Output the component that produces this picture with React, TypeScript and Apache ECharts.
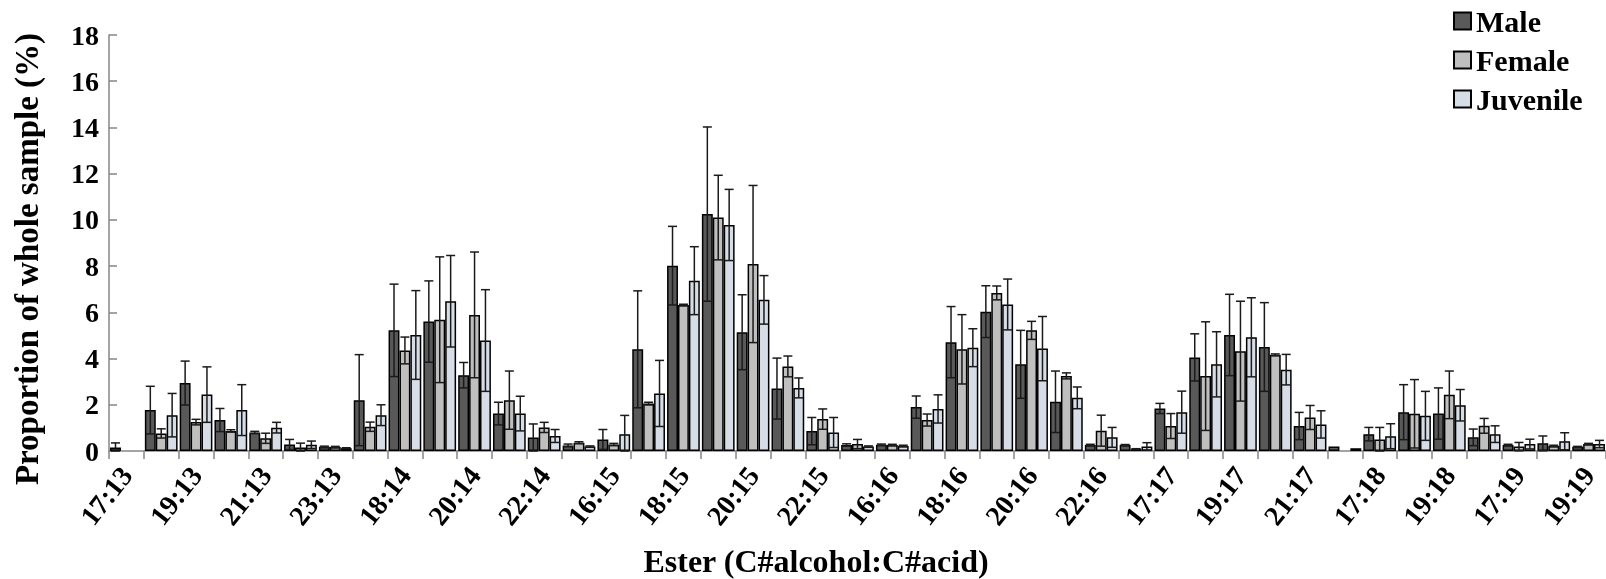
import React, { useEffect, useRef } from "react";
import * as echarts from "echarts";

// Ester names (C#alcohol:C#acid), in plotting order
const esters = [
  "17:13", "18:13", "19:13", "20:13", "21:13", "22:13", "23:13",
  "17:14", "18:14", "19:14", "20:14", "21:14", "22:14", "23:14",
  "16:15", "17:15", "18:15", "19:15", "20:15", "21:15", "22:15", "23:15",
  "16:16", "17:16", "18:16", "19:16", "20:16", "21:16", "22:16", "23:16",
  "17:17", "18:17", "19:17", "20:17", "21:17", "22:17",
  "17:18", "18:18", "19:18", "20:18",
  "17:19", "18:19", "19:19",
];

// Mean proportion of whole sample (%)
const maleMean = [
  0.15, 1.77, 2.94, 1.34, 0.8, 0.28, 0.18,
  2.2, 5.22, 5.6, 3.28, 1.62, 0.58, 0.24,
  0.5, 4.4, 8.02, 10.25, 5.14, 2.7, 0.86, 0.26,
  0.27, 1.9, 4.71, 6.03, 3.75, 2.13, 0.26, 0.26,
  1.84, 4.05, 5.02, 4.5, 1.08, 0.19,
  0.73, 1.68, 1.62, 0.59,
  0.26, 0.33, 0.18,
];
const femaleMean = [
  0, 0.76, 1.25, 0.87, 0.55, 0.15, 0.17,
  1.05, 4.35, 5.68, 5.89, 2.2, 1.02, 0.36,
  0.28, 2.05, 6.32, 10.1, 8.09, 3.66, 1.38, 0.3,
  0.26, 1.34, 4.4, 6.84, 5.22, 3.25, 0.88, 0.09,
  1.08, 3.24, 4.32, 4.16, 1.45, 0,
  0.5, 1.61, 2.43, 1.09,
  0.19, 0.22, 0.3,
];
const juvenileMean = [
  0, 1.55, 2.44, 1.77, 1.01, 0.27, 0.12,
  1.55, 5.02, 6.48, 4.78, 1.62, 0.65, 0.19,
  0.73, 2.49, 7.37, 9.78, 6.54, 2.73, 0.8, 0.19,
  0.22, 1.82, 4.47, 6.34, 4.43, 2.3, 0.59, 0.2,
  1.68, 3.75, 4.92, 3.52, 1.15, 0.12,
  0.64, 1.52, 1.98, 0.73,
  0.3, 0.42, 0.3,
];

// Standard error of each mean
const maleErr = [
  0.2, 1.03, 0.95, 0.5, 0.05, 0.22, 0.03,
  1.97, 2.0, 1.76, 0.55, 0.49, 0.59, 0.06,
  0.43, 2.53, 1.7, 3.77, 1.62, 1.32, 0.59, 0.05,
  0.03, 0.48, 1.54, 1.12, 1.47, 1.33, 0.03, 0.02,
  0.22, 1.02, 1.76, 1.92, 0.59, 0,
  0.29, 1.19, 1.11, 0.36,
  0.03, 0.32, 0.02,
];
const femaleErr = [
  0, 0.2, 0.12, 0.05, 0.22, 0.19, 0.03,
  0.2, 0.58, 2.72, 2.72, 1.26, 0.22, 0.04,
  0.05, 0.06, 0.03, 1.83, 3.4, 0.45, 0.44, 0.2,
  0.03, 0.26, 1.5, 0.3, 0.39, 0.13, 0.67, 0.01,
  0.54, 2.35, 2.16, 0.04, 0.52, 0,
  0.52, 1.48, 1.03, 0.32,
  0.18, 0.03, 0.03,
];
const juvenileErr = [
  0, 0.94, 1.2, 1.1, 0.23, 0.16, 0.02,
  0.45, 1.92, 1.98, 2.2, 0.75, 0.28, 0.03,
  0.81, 1.43, 1.47, 1.54, 1.05, 0.43, 0.65, 0.03,
  0.03, 0.61, 0.82, 1.1, 1.39, 0.47, 0.43, 0.16,
  0.91, 1.41, 1.71, 0.66, 0.59, 0,
  0.54, 1.06, 0.68, 0.36,
  0.21, 0.37, 0.16,
];

const groups = ["Male", "Female", "Juvenile"];
const colors = ["#595959", "#BFBFBF", "#D7DDE7"];

const FONT = '"Liberation Serif", "Times New Roman", serif';
const AXIS_GRAY = "#868686";
const CATEGORY_GAP = 0.06;

export default function App() {
  const ref = useRef<HTMLDivElement>(null);

  useEffect(() => {
    if (!ref.current) return;
    const chart = echarts.init(ref.current, null, { renderer: "svg" });

    const means = [maleMean, femaleMean, juvenileMean];
    const errs = [maleErr, femaleErr, juvenileErr];

    const barSeries = groups.map((name, g) => ({
      name,
      type: "bar",
      barGap: "0%",
      barCategoryGap: `${CATEGORY_GAP * 100}%`,
      itemStyle: { color: colors[g], borderColor: "#000", borderWidth: 1.5 },
      emphasis: { disabled: true },
      data: means[g].map((v) => (v > 0 ? v : "-")),
      z: 2,
    }));

    const errorSeries = groups.map((name, g) => ({
      name: `${name} SE`,
      type: "custom",
      z: 3,
      silent: true,
      data: means[g].map((v, i) => [i, v, errs[g][i]]),
      renderItem: (params: any, api: any) => {
        const idx = api.value(0);
        const v = api.value(1);
        const e = api.value(2);
        if (!(v > 0) || !(e > 0)) return null;
        const band = api.size([1, 0])[0];
        const bw = (band * (1 - CATEGORY_GAP)) / 3;
        const cx = api.coord([idx, v])[0] + (g - 1) * bw;
        const yTop = api.coord([idx, v + e])[1];
        const yBot = api.coord([idx, Math.max(v - e, 0)])[1];
        const cap = 4.5;
        const style = { stroke: "#1a1a1a", lineWidth: 1.5 };
        return {
          type: "group",
          children: [
            { type: "line", shape: { x1: cx, y1: yTop, x2: cx, y2: yBot }, style },
            { type: "line", shape: { x1: cx - cap, y1: yTop, x2: cx + cap, y2: yTop }, style },
            { type: "line", shape: { x1: cx - cap, y1: yBot, x2: cx + cap, y2: yBot }, style },
          ],
        };
      },
    }));

    const option = {
      animation: false,
      grid: { left: 109, right: 0, top: 35, bottom: 128, containLabel: false },
      legend: {
        orient: "vertical",
        left: 1448,
        top: 1,
        itemWidth: 17,
        itemHeight: 17,
        itemGap: 9,
        icon: "rect",
        data: groups,
        textStyle: { fontFamily: FONT, fontWeight: "bold", fontSize: 30, color: "#000" },
      },
      xAxis: {
        type: "category",
        data: esters,
        axisLine: { lineStyle: { color: AXIS_GRAY, width: 1.5 } },
        axisTick: { show: true, interval: 0, length: 8, lineStyle: { color: AXIS_GRAY, width: 1.5 } },
        axisLabel: {
          interval: 1,
          rotate: 52,
          margin: 19,
          fontFamily: FONT,
          fontWeight: "bold",
          fontSize: 28,
          color: "#000",
        },
      },
      yAxis: {
        type: "value",
        min: 0,
        max: 18,
        interval: 2,
        axisLine: { show: true, lineStyle: { color: AXIS_GRAY, width: 1.5 } },
        axisTick: { show: true, inside: true, length: 8, lineStyle: { color: AXIS_GRAY, width: 1.5 } },
        splitLine: { show: false },
        axisLabel: { margin: 10, fontFamily: FONT, fontWeight: "bold", fontSize: 28, color: "#000" },
      },
      graphic: [
        {
          type: "text",
          x: 816,
          y: 561,
          style: {
            text: "Ester (C#alcohol:C#acid)",
            font: `bold 32px ${FONT}`,
            fill: "#000",
            align: "center",
            verticalAlign: "middle",
          },
        },
        {
          type: "text",
          x: 27,
          y: 259,
          rotation: Math.PI / 2,
          style: {
            text: "Proportion of whole sample (%)",
            font: `bold 33px ${FONT}`,
            fill: "#000",
            align: "center",
            verticalAlign: "middle",
          },
        },
      ],
      series: [...barSeries, ...errorSeries],
    };

    chart.setOption(option as any);
    return () => chart.dispose();
  }, []);

  return (
    <div
      ref={ref}
      style={{ position: "fixed", left: 0, top: 0, width: 1606, height: 579 }}
    />
  );
}
